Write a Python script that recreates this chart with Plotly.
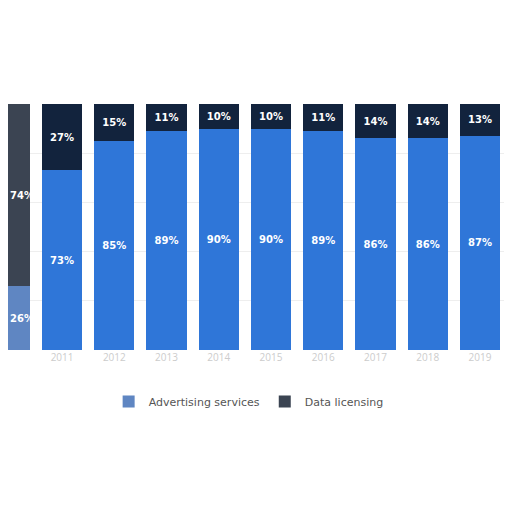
import plotly.graph_objects as go

years = ["2010", "2011", "2012", "2013", "2014", "2015", "2016", "2017", "2018", "2019"]
advertising = [26, 73, 85, 89, 90, 90, 89, 86, 86, 87]
licensing = [74, 27, 15, 11, 10, 10, 11, 14, 14, 13]

ad_colors = ["#5f86c2"] + ["#2f76d8"] * 9
lic_colors = ["#3b4452"] + ["#12233d"] * 9
x_start = -0.035

def labels(vals):
    # first bar is cut by the edge, its labels are placed separately
    return [""] + [f"<b>{v}%</b>" for v in vals[1:]]

fig = go.Figure()
fig.add_trace(go.Bar(
    x=list(range(len(years))), y=advertising, name="Advertising services",
    marker=dict(color=ad_colors, line=dict(width=0)),
    text=labels(advertising), textposition="inside",
    insidetextanchor="middle",
    textfont=dict(color="white", size=10, family="DejaVu Sans"),
))
fig.add_trace(go.Bar(
    x=list(range(len(years))), y=licensing, name="Data licensing",
    marker=dict(color=lic_colors, line=dict(width=0)),
    text=labels(licensing), textposition="inside",
    insidetextanchor="middle",
    textfont=dict(color="white", size=10, family="DejaVu Sans"),
))

for yv, v in [(advertising[0] / 2, advertising[0]),
              (advertising[0] + licensing[0] / 2, licensing[0])]:
    fig.add_annotation(x=x_start, y=yv, xref="x", yref="y", xanchor="left",
                       text=f"<b>{v}%</b>", showarrow=False,
                       font=dict(color="white", size=10, family="DejaVu Sans"))

fig.update_layout(
    barmode="stack", bargap=0.23,
    width=512, height=512,
    margin=dict(l=0, r=0, t=96, b=170),
    paper_bgcolor="white", plot_bgcolor="white",
    showlegend=True,
    legend=dict(orientation="h", traceorder="normal", x=0.47, xanchor="center",
                y=-0.15, yanchor="top",
                font=dict(size=11, color="#555", family="DejaVu Sans")),
    uniformtext=dict(minsize=9, mode="show"),
    xaxis=dict(range=[x_start, 9.765], tickmode="array",
               tickvals=list(range(len(years))), ticktext=years,
               tickfont=dict(size=10, color="#ccc"), showline=False),
    yaxis=dict(range=[0, 100], showticklabels=False, showgrid=True,
               gridcolor="#eeeeee", zeroline=False),
)

fig.write_html("out.html")
